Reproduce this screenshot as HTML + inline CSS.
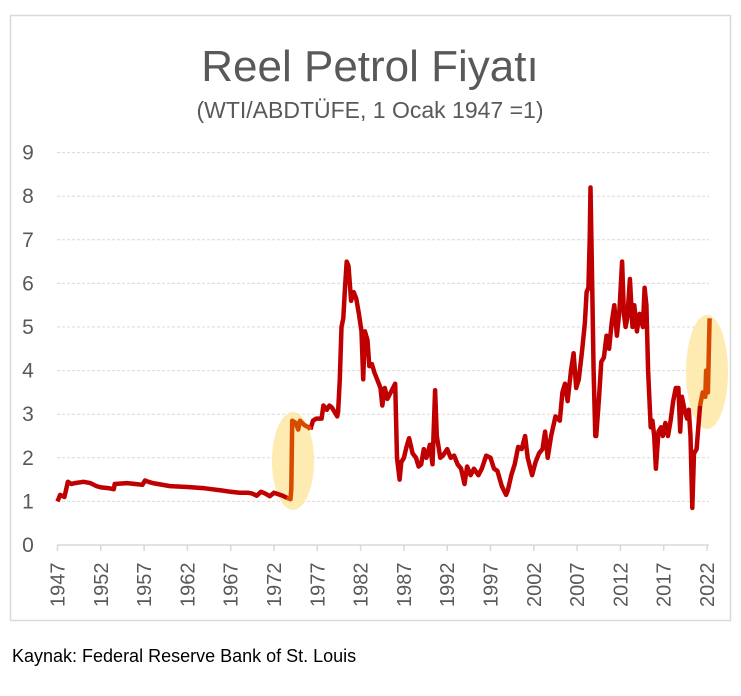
<!DOCTYPE html>
<html><head><meta charset="utf-8"><style>
body{margin:0;background:#fff;width:741px;height:691px;overflow:hidden;font-family:"Liberation Sans",sans-serif}
</style></head><body>
<svg width="741" height="691" xmlns="http://www.w3.org/2000/svg" font-family="Liberation Sans, sans-serif">
<rect x="10.5" y="15.5" width="720" height="605" fill="#fff" stroke="#d9d9d9" stroke-width="1.5"/>
<text x="370" y="81" text-anchor="middle" font-size="44" fill="#595959">Reel Petrol Fiyatı</text>
<text x="370" y="118" text-anchor="middle" font-size="23" fill="#595959">(WTI/ABDTÜFE, 1 Ocak 1947 =1)</text>
<g id="grid"></g>
<g id="ylab" font-size="21" fill="#595959" text-anchor="middle"></g>
<line x1="57" y1="545" x2="709" y2="545" stroke="#d9d9d9" stroke-width="1.5"/>
<g id="xt"></g>
<g id="xl" font-size="20" fill="#595959"></g>
<ellipse cx="293" cy="461" rx="21" ry="49" fill="#fde9a9" opacity="0.9"/>
<ellipse cx="707" cy="372" rx="21" ry="57" fill="#fde9a9" opacity="0.9"/>
<path id="p1" fill="none" stroke="#c00000" stroke-width="4.5" stroke-linejoin="round"/>
<path id="p2" fill="none" stroke="#d84a00" stroke-width="4.5" stroke-linejoin="round"/>
<path id="p3" fill="none" stroke="#d84a00" stroke-width="4.5" stroke-linejoin="round"/>
<text x="12" y="662" font-size="18" fill="#000">Kaynak: Federal Reserve Bank of St. Louis</text>
</svg>
<script>
var X=function(y){if(y>=1980.1&&y<1985.9)y-=0.7;return 57.5+(y-1947)*8.66},Y=function(v){return 545-v*43.6};
var g=document.getElementById('grid'),yl=document.getElementById('ylab'),xt=document.getElementById('xt'),xl=document.getElementById('xl');
var h='',l='';
for(var i=1;i<=9;i++){h+='<line x1="57" x2="709" y1="'+Y(i)+'" y2="'+Y(i)+'" stroke="#d9d9d9" stroke-dasharray="3,2"/>';}
for(var i=0;i<=9;i++){l+='<text x="28" y="'+(Y(i)+7)+'">'+i+'</text>';}
g.innerHTML=h;yl.innerHTML=l;
h='';l='';
for(var yr=1947;yr<=2022;yr+=5){var x=57.5+(yr-1947)*8.66;h+='<line x1="'+x+'" x2="'+x+'" y1="545" y2="551" stroke="#d9d9d9" stroke-width="1.5"/>';
l+='<text transform="translate('+(x+7)+',607) rotate(-90)">'+yr+'</text>';}
xt.innerHTML=h;xl.innerHTML=l;
var d1=[1947,1.0,1947.3,1.15,1947.8,1.1,1948.2,1.45,1948.6,1.4,1949,1.42,1950,1.45,1950.8,1.42,1951.5,1.35,1952,1.32,1953,1.3,1953.5,1.28,1953.6,1.4,1955,1.42,1956,1.4,1956.8,1.38,1957.1,1.48,1957.5,1.45,1958,1.42,1960,1.35,1962,1.33,1964,1.3,1966,1.25,1967,1.22,1968,1.2,1969,1.2,1969.5,1.18,1970,1.13,1970.5,1.22,1971,1.18,1971.5,1.12,1972,1.2,1973,1.13,1973.5,1.08];
var d2=[1973.5,1.08,1973.9,1.05,1974.0,1.28,1974.1,2.85,1974.5,2.8,1974.8,2.65,1975,2.85,1975.5,2.75,1976,2.7,1976.2,2.65];
var d3=[1976.2,2.65,1976.5,2.85,1976.9,2.9,1977.5,2.9,1977.7,3.2,1978.1,3.1,1978.4,3.2,1978.7,3.15,1979.0,3.05,1979.3,2.95,1980.1,3.05,1980.3,3.8,1980.5,5.0,1980.7,5.2,1980.9,5.9,1981.1,6.5,1981.3,6.4,1981.6,5.6,1981.9,5.8,1982.2,5.65,1982.5,5.3,1982.8,4.9,1983.0,3.8,1983.2,4.9,1983.5,4.7,1983.7,4.1,1984,4.15,1984.3,3.95,1984.6,3.8,1985,3.6,1985.2,3.2,1985.5,3.6,1985.8,3.35,1986.0,3.7,1986.2,2.0,1986.5,1.5,1986.7,1.9,1987,2.0,1987.3,2.25,1987.6,2.45,1988,2.1,1988.4,2.0,1988.7,1.8,1989,1.85,1989.3,2.2,1989.6,2.0,1990,2.3,1990.3,1.85,1990.6,3.55,1990.8,2.5,1991.2,2.0,1991.5,2.05,1992,2.2,1992.4,2.0,1992.8,2.05,1993.2,1.85,1993.6,1.75,1994,1.4,1994.3,1.8,1994.7,1.6,1995.1,1.75,1995.6,1.6,1996,1.75,1996.5,2.05,1997,2.0,1997.4,1.75,1997.8,1.7,1998.3,1.35,1998.8,1.15,1999,1.25,1999.4,1.6,1999.8,1.85,2000.2,2.25,2000.6,2.2,2001,2.5,2001.3,2.0,2001.8,1.6,2002.2,1.9,2002.6,2.1,2003,2.2,2003.3,2.6,2003.6,2.0,2004,2.5,2004.5,2.95,2005,2.85,2005.3,3.5,2005.6,3.7,2005.9,3.3,2006.3,4.0,2006.6,4.4,2006.9,3.6,2007.2,3.8,2007.6,4.5,2007.9,5.1,2008.1,5.8,2008.3,5.9,2008.45,7.0,2008.55,8.2,2008.7,6.5,2008.9,4.0,2009.1,2.5,2009.2,2.5,2009.5,3.3,2009.8,4.2,2010.1,4.3,2010.4,4.8,2010.7,4.5,2011,5.1,2011.3,5.5,2011.6,4.8,2011.9,5.4,2012.2,6.5,2012.4,5.3,2012.6,5.0,2012.8,5.2,2013.1,6.1,2013.4,5.0,2013.6,5.5,2013.9,4.9,2014.2,5.3,2014.6,5.0,2014.8,5.9,2015.0,5.5,2015.2,4.0,2015.5,2.7,2015.7,2.85,2015.9,2.5,2016.1,1.75,2016.4,2.6,2016.7,2.7,2016.9,2.5,2017.2,2.8,2017.5,2.5,2017.8,2.85,2018.1,3.3,2018.4,3.6,2018.7,3.6,2018.9,2.6,2019.1,3.4,2019.4,3.1,2019.7,2.9,2019.9,3.1,2020.1,2.5,2020.3,0.85,2020.5,2.1,2020.8,2.2,2021.0,2.7,2021.2,3.2];
var d4=[2021.2,3.2,2021.5,3.5,2021.8,3.4,2021.9,4.0,2022.1,3.5,2022.2,4.3,2022.3,5.2];
function P(d){var s='';for(var i=0;i<d.length;i+=2)s+=(i?'L':'M')+X(d[i]).toFixed(1)+' '+Y(d[i+1]).toFixed(1);return s;}
document.getElementById('p1').setAttribute('d',P(d1)+P(d3));
document.getElementById('p2').setAttribute('d',P(d2));
document.getElementById('p3').setAttribute('d',P(d4));
</script>
</body></html>
